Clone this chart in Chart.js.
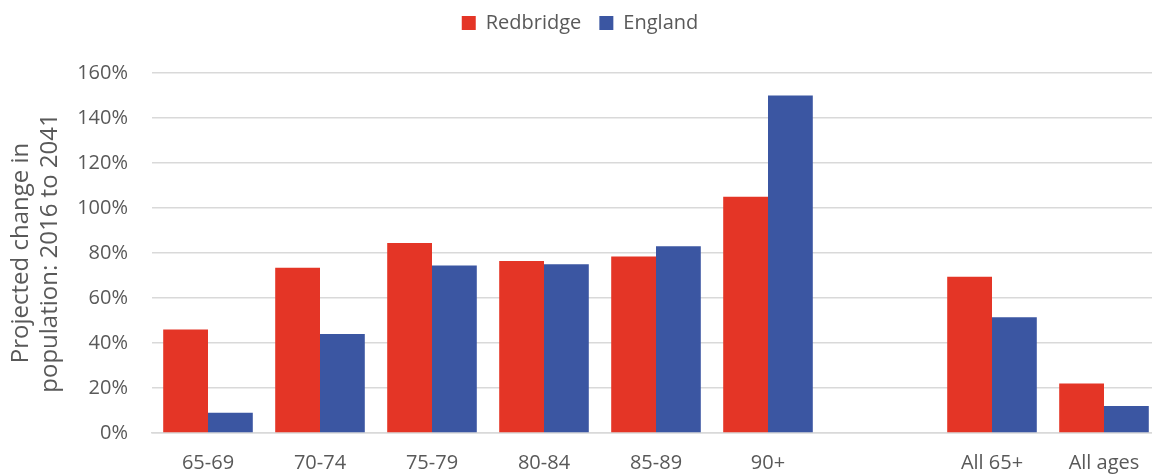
<!DOCTYPE html>
<html>
<head>
<meta charset="utf-8">
<script src="https://cdn.jsdelivr.net/npm/chart.js@4/dist/chart.umd.min.js"></script>
<style>
html,body{margin:0;padding:0;background:#fff;overflow:hidden;}
#wrap{width:1160px;height:475px;position:relative;}
</style>
</head>
<body>
<div id="wrap"><canvas id="c"></canvas></div>
<script>
const categories = ['65-69','70-74','75-79','80-84','85-89','90+','','All 65+','All ages'];
const redbridge = [46, 73.5, 84.5, 76.5, 78.5, 105, null, 69.5, 22];
const england = [9, 44, 74.5, 75, 83, 150, null, 51.5, 12];
const yTicks = {min:0, max:160, step:20};
const yTitle = ['Projected change in','population: 2016 to 2041'];

const FONT = "'Open Sans', 'Noto Sans', sans-serif";
const legendSpacer = {
  id:'legendSpacer',
  beforeInit(chart){
    const orig = chart.legend.fit;
    chart.legend.fit = function(){ orig.bind(chart.legend)(); this.height += 30; };
  }
};
new Chart(document.getElementById('c'), {
  type:'bar',
  data:{
    labels:categories,
    datasets:[
      {label:'Redbridge', data:redbridge, backgroundColor:'#E43526', borderWidth:0},
      {label:'England', data:england, backgroundColor:'#3B56A2', borderWidth:0}
    ]
  },
  plugins:[legendSpacer],
  options:{
    responsive:true, maintainAspectRatio:false, animation:false,
    devicePixelRatio:1,
    layout:{padding:{top:-5,right:0,left:0,bottom:0}},
    datasets:{bar:{categoryPercentage:0.8, barPercentage:1.0}},
    plugins:{
      tooltip:{enabled:false},
      legend:{
        position:'top',
        labels:{font:{family:FONT,size:20}, color:'#595959', boxWidth:14, boxHeight:14, padding:18}
      }
    },
    scales:{
      x:{
        grid:{display:false, drawTicks:false},
        border:{display:true, color:'#d9d9d9', width:1.5},
        ticks:{font:{family:FONT,size:20}, color:'#595959', padding:18, maxRotation:0, autoSkip:false},
        afterFit:(s)=>{s.height=42;}
      },
      y:{
        min:yTicks.min, max:yTicks.max,
        grid:{color:'#d9d9d9', lineWidth:1.5, drawTicks:false},
        border:{display:false},
        ticks:{stepSize:yTicks.step, font:{family:FONT,size:20}, color:'#595959', padding:24,
          callback:(v)=>v+'%'},
        title:{display:true, text:yTitle, font:{family:FONT,size:24}, color:'#595959', padding:{top:7,bottom:0}},
        afterFit:(s)=>{s.width=152;}
      }
    }
  }
});
</script>
</body>
</html>
